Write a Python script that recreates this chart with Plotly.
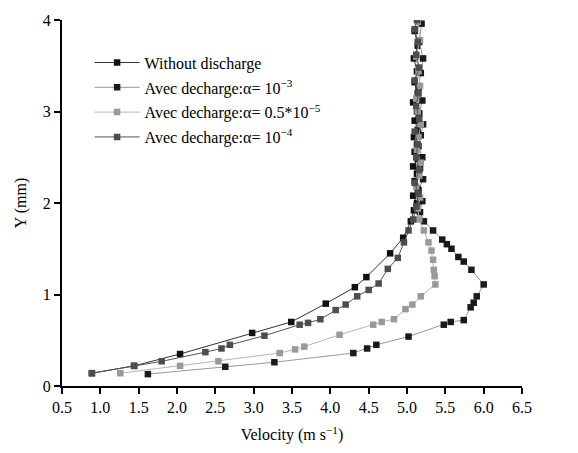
import plotly.graph_objects as go

# ---- data (velocity in m/s, Y in mm) ----
names = [
    "Without discharge",
    "Avec decharge:\u03b1= 10<sup>\u22123</sup>",
    "Avec decharge:\u03b1= 0.5*10<sup>\u22125</sup>",
    "Avec decharge:\u03b1= 10<sup>\u22124</sup>",
]

v_without = [0.89, 1.44, 2.04, 2.98, 3.49, 3.94, 4.32, 4.47, 4.78, 4.95, 5.05,
             5.09, 5.13, 5.08, 5.14, 5.10, 5.13, 5.08, 5.14, 5.10, 5.13, 5.09,
             5.14, 5.10, 5.13, 5.08, 5.14, 5.10, 5.13, 5.09, 5.14, 5.10]
y_without = [0.14, 0.22, 0.35, 0.58, 0.70, 0.90, 1.08, 1.19, 1.45, 1.62, 1.80,
             1.92, 2.00, 2.08, 2.16, 2.24, 2.32, 2.40, 2.48, 2.56, 2.64, 2.72,
             2.80, 2.90, 3.00, 3.10, 3.20, 3.32, 3.44, 3.58, 3.72, 3.88]

v_a3 = [1.62, 2.63, 3.27, 4.30, 4.48, 4.60, 5.02, 5.48, 5.57, 5.74, 5.83, 5.87,
        5.91, 6.00, 5.84, 5.74, 5.67, 5.58, 5.52, 5.46, 5.34, 5.22,
        5.17, 5.20, 5.15, 5.21, 5.17, 5.20, 5.15, 5.18, 5.21, 5.16, 5.20,
        5.15, 5.18, 5.21, 5.16, 5.19]
y_a3 = [0.13, 0.21, 0.26, 0.36, 0.41, 0.45, 0.54, 0.67, 0.70, 0.72, 0.86, 0.91,
        0.98, 1.11, 1.27, 1.36, 1.41, 1.50, 1.55, 1.60, 1.70, 1.80,
        1.90, 2.02, 2.14, 2.26, 2.38, 2.50, 2.62, 2.74, 2.86, 2.98, 3.12,
        3.26, 3.42, 3.58, 3.76, 3.96]

v_a05 = [1.26, 2.04, 2.54, 3.34, 3.54, 3.66, 4.12, 4.56, 4.67, 4.83, 4.98, 5.07,
         5.18, 5.37, 5.36, 5.35, 5.34, 5.32, 5.28, 5.22, 5.16,
         5.14, 5.17, 5.12, 5.16, 5.18, 5.13, 5.15, 5.18, 5.14, 5.12, 5.17,
         5.15, 5.12, 5.17, 5.14]
y_a05 = [0.14, 0.22, 0.27, 0.36, 0.40, 0.43, 0.56, 0.67, 0.70, 0.73, 0.84, 0.89,
         0.98, 1.11, 1.20, 1.27, 1.38, 1.48, 1.57, 1.70, 1.82,
         1.94, 2.06, 2.18, 2.30, 2.44, 2.58, 2.72, 2.86, 3.00, 3.14, 3.28,
         3.44, 3.60, 3.78, 3.98]

v_a4 = [0.89, 1.44, 1.80, 2.37, 2.58, 2.69, 3.14, 3.60, 3.71, 3.87, 4.07, 4.20,
        4.35, 4.50, 4.63, 4.75, 4.88, 4.96, 5.02, 5.08,
        5.12, 5.15, 5.10, 5.16, 5.12, 5.14, 5.10, 5.16, 5.12, 5.15, 5.10,
        5.16, 5.12, 5.14, 5.10, 5.13]
y_a4 = [0.14, 0.22, 0.27, 0.37, 0.41, 0.45, 0.55, 0.67, 0.69, 0.73, 0.83, 0.89,
        0.98, 1.05, 1.12, 1.28, 1.40, 1.57, 1.70, 1.82,
        1.96, 2.10, 2.22, 2.36, 2.50, 2.64, 2.78, 2.92, 3.06, 3.20, 3.34,
        3.48, 3.62, 3.76, 3.90, 4.00]

x_ticks = [0.5, 1.0, 1.5, 2.0, 2.5, 3.0, 3.5, 4.0, 4.5, 5.0, 5.5, 6.0, 6.5]
y_ticks = [0, 1, 2, 3, 4]

series = [
    (v_without, y_without, "#111111", "#333333"),
    (v_a3, y_a3, "#1a1a1a", "#999999"),
    (v_a05, y_a05, "#9a9a9a", "#b5b5b5"),
    (v_a4, y_a4, "#4d4d4d", "#555555"),
]

FONT = "Liberation Serif, Times New Roman, serif"

fig = go.Figure()
for i, ((xs, ys, mc, lc), nm) in enumerate(zip(series, names)):
    fig.add_trace(go.Scatter(
        x=xs, y=ys, name=nm, mode="lines+markers",
        line=dict(color=lc, width=1),
        marker=dict(symbol="square", size=6.5, color=mc,
                    line=dict(width=0)),
        legendgroup=f"g{i}",
    ))

fig.update_layout(
    width=578, height=453,
    margin=dict(l=62, r=56, t=15, b=65),
    paper_bgcolor="white", plot_bgcolor="white",
    font=dict(family=FONT, size=16, color="black"),
    showlegend=True,
    legend=dict(x=0.06, y=0.93, xanchor="left", yanchor="top",
                bgcolor="rgba(0,0,0,0)", font=dict(family=FONT, size=16),
                traceorder="grouped", tracegroupgap=1, itemwidth=45),
    xaxis=dict(range=[0.5, 6.5], tickvals=x_ticks,
               ticktext=[f"{t:.1f}" for t in x_ticks],
               tickfont=dict(family=FONT, size=16),
               showline=True, linecolor="black", linewidth=2,
               ticks="outside", ticklen=6, tickwidth=2, tickcolor="black",
               showgrid=False, zeroline=False,
               title=dict(text="Velocity (m s<sup>\u22121</sup>)",
                          font=dict(family=FONT, size=16), standoff=14)),
    yaxis=dict(range=[0, 4], tickvals=y_ticks,
               tickfont=dict(family=FONT, size=16),
               showline=True, linecolor="black", linewidth=2,
               ticks="outside", ticklen=6, tickwidth=2, tickcolor="black",
               showgrid=False, zeroline=False,
               title=dict(text="Y (mm)", font=dict(family=FONT, size=16),
                          standoff=12)),
)

fig.write_html("out.html")
